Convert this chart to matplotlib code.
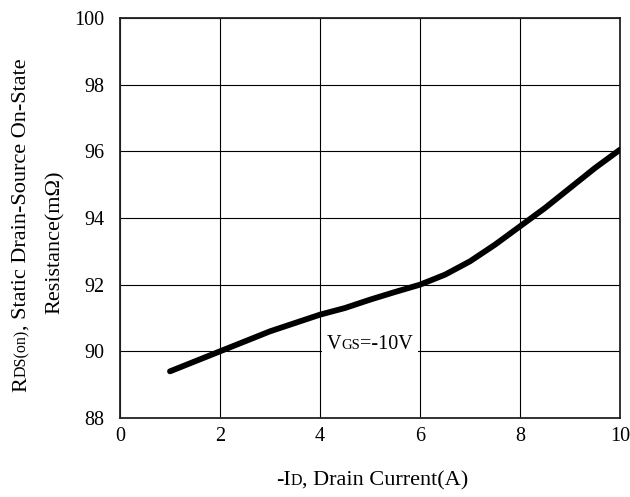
import matplotlib
matplotlib.use('Agg')
import matplotlib.pyplot as plt
import matplotlib.transforms as mtransforms
from matplotlib.patches import Rectangle

plt.rcParams.update({'font.family': 'Liberation Serif', 'font.size': 14.5})

# values
current_a = [1.0, 1.5, 2.0, 2.5, 3.0, 3.5, 4.0, 4.5, 5.0, 5.5,
             6.0, 6.5, 7.0, 7.5, 8.0, 8.5, 9.0, 9.5, 10.0]
rds_mohm = [89.4, 89.7, 90.0, 90.3, 90.6, 90.85, 91.1, 91.3, 91.55, 91.78,
            92.0, 92.3, 92.7, 93.2, 93.75, 94.3, 94.9, 95.5, 96.05]
x_ticks = [0, 2, 4, 6, 8, 10]
y_ticks = [88, 90, 92, 94, 96, 98, 100]

W, H = 630, 497
fig = plt.figure(figsize=(W / 100, H / 100), dpi=100)
ax = fig.add_axes([120 / W, (H - 418) / H, 500 / W, 400 / H])

ax.plot(current_a, rds_mohm, color='black', linewidth=4.2,
        solid_capstyle='round', zorder=5)
ax.set_xlim(0, 10); ax.set_ylim(88, 100)
ax.set_xticks(x_ticks); ax.set_yticks(y_ticks)
ax.grid(color='black', linewidth=0.8, zorder=0)
ax.set_axisbelow(True)
for s in ax.spines.values():
    s.set_linewidth(1.3); s.set_color('#222222')
ax.tick_params(axis='x', length=0, pad=6.5, labelsize=14.5)
ax.tick_params(axis='y', length=0, pad=11, labelsize=14.5)

renderer = fig.canvas.get_renderer()
pix = mtransforms.IdentityTransform()


def rich(x, y, parts, transform, rotation=0, center=False, **kw):
    """text made of pieces of different size on one baseline"""
    texts, offs, off = [], [], 0
    for s, size in parts:
        t = fig.text(x, y, s, transform=transform, fontsize=size, rotation=rotation,
                     rotation_mode='anchor', ha='left', va='baseline', **kw)
        bb = t.get_window_extent(renderer)
        texts.append(t); offs.append(off)
        off += bb.height if rotation else bb.width
    shift = off / 2 if center else 0
    for t, o in zip(texts, offs):
        d = o - shift
        if rotation:
            t.set_transform(mtransforms.offset_copy(transform, x=0, y=d, units='dots'))
        else:
            t.set_transform(mtransforms.offset_copy(transform, x=d, y=0, units='dots'))
    return texts


# y label, two lines
rich(26, H - 225, [('R', 16), ('DS(on)', 11.5), (', Static Drain-Source On-State', 16)],
     pix, rotation=90, center=True)
rich(60, H - 242, [('Resistance(m\u03a9)', 16)], pix, rotation=90, center=True)

# x label
rich(372, H - 485, [('-I', 16), ('D', 11.5), (', Drain Current(A)', 16)], pix, center=True)

# curve annotation with a white patch that breaks the grid line
vgs = rich(4.14, 90.07, [('V', 14.5), ('GS', 10.5), ('=-10V', 14.5)], ax.transData, zorder=4)
bbs = [t.get_window_extent(renderer) for t in vgs]
x0 = min(b.x0 for b in bbs) - 5; x1 = max(b.x1 for b in bbs) + 5
y0 = min(b.y0 for b in bbs) - 2; y1 = max(b.y1 for b in bbs) + 2
fig.add_artist(Rectangle((x0, y0), x1 - x0, y1 - y0, transform=pix,
                         facecolor='white', edgecolor='none', zorder=3))

fig.savefig('out.png', dpi=100)
